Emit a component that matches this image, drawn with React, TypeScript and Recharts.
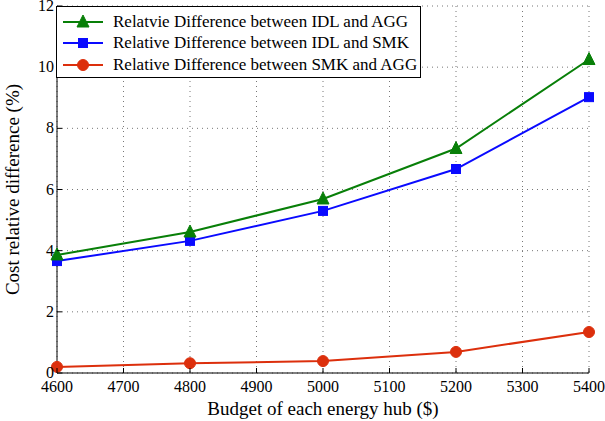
import {
  LineChart,
  Line,
  XAxis,
  YAxis,
  CartesianGrid,
  Label,
} from 'recharts';

const budgets = [4600, 4800, 5000, 5200, 5400];
const idlAgg = [3.86, 4.61, 5.69, 7.34, 10.25];
const idlSmk = [3.66, 4.32, 5.3, 6.67, 9.02];
const smkAgg = [0.2, 0.32, 0.39, 0.69, 1.34];

const xTicks = [4600, 4700, 4800, 4900, 5000, 5100, 5200, 5300, 5400];
const yTicks = [0, 2, 4, 6, 8, 10, 12];

const seriesNames = [
  'Relatvie Difference between IDL and AGG',
  'Relative Difference between IDL and SMK',
  'Relative Difference between SMK and AGG',
];

const GREEN = '#087f08';
const BLUE = '#0a0aff';
const RED = '#dc2f0c';
const FONT = '"Liberation Serif"';

const data = budgets.map((b, i) => ({
  budget: b,
  idlAgg: idlAgg[i],
  idlSmk: idlSmk[i],
  smkAgg: smkAgg[i],
}));

const Marker = ({ kind, cx, cy, color }: any) => {
  if (kind === 'triangle') {
    const s = 6;
    return (
      <polygon
        points={`${cx},${cy - s - 1} ${cx - s},${cy + s - 1} ${cx + s},${cy + s - 1}`}
        fill={color}
        stroke={color}
      />
    );
  }
  if (kind === 'square') {
    return <rect x={cx - 4.5} y={cy - 4.5} width={9} height={9} fill={color} stroke={color} />;
  }
  return <circle cx={cx} cy={cy} r={5.5} fill={color} stroke={color} />;
};

const makeDot = (kind: string, color: string) => (props: any) => (
  <Marker key={`${kind}-${props.index}`} kind={kind} cx={props.cx} cy={props.cy} color={color} />
);

const BottomTick = ({ x, y, payload }: any) => (
  <g>
    <line x1={x} y1={y} x2={x} y2={y - 5} stroke="#000" />
    <text x={x} y={y + 19} textAnchor="middle" fontSize={16} fontFamily={FONT} fill="#000">
      {payload.value}
    </text>
  </g>
);

const TopTick = ({ x, y }: any) => <line x1={x} y1={y} x2={x} y2={y + 5} stroke="#000" />;

const LeftTick = ({ x, y, payload }: any) => (
  <g>
    <line x1={x} y1={y} x2={x + 5} y2={y} stroke="#000" />
    <text x={x - 3} y={y + 5} textAnchor="end" fontSize={16} fontFamily={FONT} fill="#000">
      {payload.value}
    </text>
  </g>
);

const RightTick = ({ x, y }: any) => <line x1={x} y1={y} x2={x - 5} y2={y} stroke="#000" />;

const legendItems = [
  { name: seriesNames[0], kind: 'triangle', color: GREEN },
  { name: seriesNames[1], kind: 'square', color: BLUE },
  { name: seriesNames[2], kind: 'circle', color: RED },
];

const LegendBox = () => (
  <div
    style={{
      position: 'absolute',
      left: 56,
      top: 6,
      width: 365,
      height: 72,
      border: '1px solid #000',
      background: '#fff',
      boxSizing: 'border-box',
      paddingTop: 4,
    }}
  >
    {legendItems.map((it) => (
      <div key={it.name} style={{ display: 'flex', alignItems: 'center', height: 21.5 }}>
        <svg width={50} height={20} style={{ marginLeft: 6, flexShrink: 0 }}>
          <line x1={0} y1={10} x2={40} y2={10} stroke={it.color} strokeWidth={2} />
          <Marker kind={it.kind} cx={20} cy={10} color={it.color} />
        </svg>
        <span style={{ fontFamily: FONT, fontSize: 17, color: '#000', whiteSpace: 'nowrap' }}>
          {it.name}
        </span>
      </div>
    ))}
  </div>
);

export default function App() {
  return (
    <div
      style={{
        position: 'absolute',
        left: 0,
        top: 0,
        width: 605,
        height: 421,
        background: '#fff',
        fontFamily: FONT,
      }}
    >
      <style>{`svg text, svg tspan { font-family: "Liberation Serif" !important; }`}</style>
      <LineChart
        width={605}
        height={421}
        data={data}
        margin={{ top: 6, right: 16, left: 0, bottom: 0 }}
        style={{ fontFamily: FONT }}
      >
        <CartesianGrid
          xAxisId="bottom"
          yAxisId="left"
          stroke="#777"
          strokeDasharray="1 4"
        />
        <XAxis
          xAxisId="bottom"
          dataKey="budget"
          type="number"
          domain={[4600, 5400]}
          ticks={xTicks}
          height={48}
          tickSize={0}
          tickMargin={0}
          tickLine={false}
          axisLine={{ stroke: '#000' }}
          tick={<BottomTick />}
          interval={0}
        >
          <Label
            value="Budget of each energy hub ($)"
            position="insideBottom"
            offset={6}
            fontFamily={FONT}
            fontSize={19}
            fill="#000"
          />
        </XAxis>
        <XAxis
          xAxisId="top"
          orientation="top"
          dataKey="budget"
          type="number"
          domain={[4600, 5400]}
          ticks={xTicks}
          height={0}
          tickSize={0}
          tickMargin={0}
          tickLine={false}
          axisLine={{ stroke: '#000' }}
          tick={<TopTick />}
          interval={0}
        />
        <YAxis
          yAxisId="left"
          domain={[0, 12]}
          ticks={yTicks}
          width={57}
          tickSize={0}
          tickMargin={0}
          tickLine={false}
          axisLine={{ stroke: '#000' }}
          tick={<LeftTick />}
          interval={0}
        >
          <Label
            value="Cost relative difference (%)"
            angle={-90}
            position="insideLeft"
            offset={12}
            fontFamily={FONT}
            fontSize={19}
            fill="#000"
            style={{ textAnchor: 'middle' }}
          />
        </YAxis>
        <YAxis
          yAxisId="right"
          orientation="right"
          domain={[0, 12]}
          ticks={yTicks}
          width={0}
          tickSize={0}
          tickMargin={0}
          tickLine={false}
          axisLine={{ stroke: '#000' }}
          tick={<RightTick />}
          interval={0}
        />
        <Line
          xAxisId="bottom"
          yAxisId="left"
          dataKey="smkAgg"
          stroke={RED}
          strokeWidth={2}
          dot={makeDot('circle', RED)}
          isAnimationActive={false}
        />
        <Line
          xAxisId="bottom"
          yAxisId="left"
          dataKey="idlSmk"
          stroke={BLUE}
          strokeWidth={2}
          dot={makeDot('square', BLUE)}
          isAnimationActive={false}
        />
        <Line
          xAxisId="bottom"
          yAxisId="left"
          dataKey="idlAgg"
          stroke={GREEN}
          strokeWidth={2}
          dot={makeDot('triangle', GREEN)}
          isAnimationActive={false}
        />
      </LineChart>
      <LegendBox />
    </div>
  );
}
